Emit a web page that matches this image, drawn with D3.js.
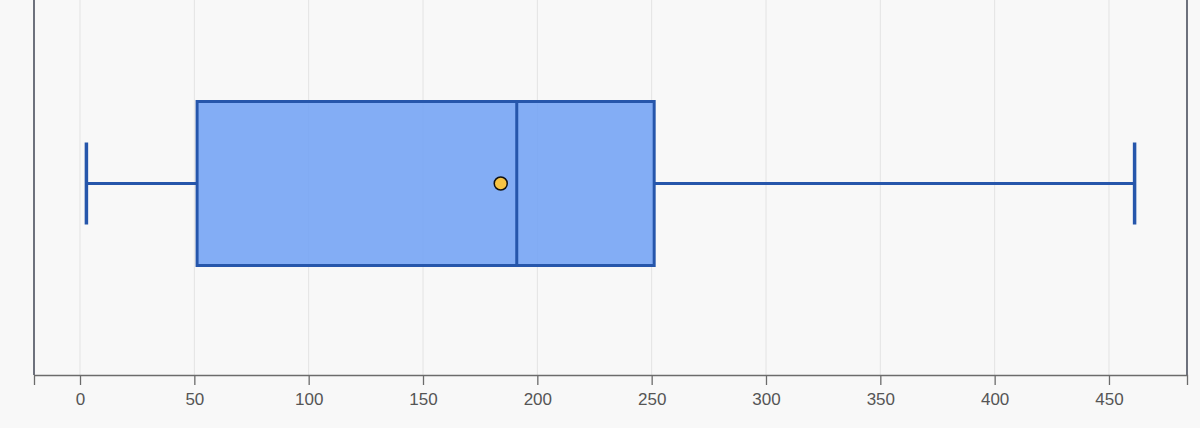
<!DOCTYPE html>
<html>
<head>
<meta charset="utf-8">
<script src="https://cdn.jsdelivr.net/npm/d3@7"></script>
<style>
  html, body { margin: 0; padding: 0; background: #f8f8f8; }
  svg { display: block; font-family: "Helvetica Neue", Helvetica, Arial, "Liberation Sans", sans-serif; }
</style>
</head>
<body>
<div id="vis"></div>
<script>
const width = 1200;
const height = 428;

// box plot summary (one series)
const categories = ['Series 1'];
const mins = [2.8];
const q1s = [51.2];
const medians = [191.0];
const q3s = [251.1];
const maxs = [461.2];
const means = [184.0];

const margin = {top: 0, right: 13, bottom: 53, left: 34};

const svg = d3.select('#vis')
    .append('svg')
    .attr('width', width)
    .attr('height', height);

const lo = d3.min(mins), hi = d3.max(maxs);
const pad = (hi - lo) * 0.05;

const x = d3.scaleLinear()
    .domain([lo - pad, hi + pad])
    .range([margin.left, width - margin.right]);

const y = d3.scaleBand()
    .domain(categories)
    .range([20, 347])
    .padding(0);

const ticks = x.ticks(10);

// grid
svg.append('g')
    .selectAll('line')
    .data(ticks)
    .join('line')
    .attr('x1', d => x(d))
    .attr('x2', d => x(d))
    .attr('y1', 0)
    .attr('y2', height - margin.bottom)
    .style('stroke', '#e3e3e3')
    .style('stroke-width', 1);

// side lines
svg.append('g')
    .selectAll('line')
    .data(x.range())
    .join('line')
    .attr('x1', d => d)
    .attr('x2', d => d)
    .attr('y1', 0)
    .attr('y2', height - margin.bottom)
    .style('stroke', '#23283a')
    .style('stroke-width', 1.3);

// bottom axis
const axis = svg.append('g')
    .attr('transform', `translate(0,${height - margin.bottom})`)
    .call(d3.axisBottom(x).tickValues(ticks).tickSizeOuter(10).tickSize(10).tickPadding(6));

axis.select('.domain').style('stroke', '#6b6b6b').style('stroke-width', 1.3);
axis.selectAll('.tick line').style('stroke', '#6b6b6b').style('stroke-width', 1.3);
axis.selectAll('.tick text')
    .style('font-size', '17px')
    .style('fill', '#555')
    .attr('dy', '0.85em');

// boxes
const boxColor = '#2656ab';
const capHalf = 41;

const g = svg.append('g');
categories.forEach((c, i) => {
    const cy = y(c) + y.bandwidth() / 2;
    const bh = 164;

    // whiskers
    g.append('line')
        .attr('x1', x(mins[i])).attr('x2', x(q1s[i]))
        .attr('y1', cy).attr('y2', cy)
        .style('stroke', boxColor).style('stroke-width', 3);
    g.append('line')
        .attr('x1', x(q3s[i])).attr('x2', x(maxs[i]))
        .attr('y1', cy).attr('y2', cy)
        .style('stroke', boxColor).style('stroke-width', 3);
    [mins[i], maxs[i]].forEach(v => {
        g.append('line')
            .attr('x1', x(v)).attr('x2', x(v))
            .attr('y1', cy - capHalf).attr('y2', cy + capHalf)
            .style('stroke', boxColor).style('stroke-width', 3.5);
    });

    // box
    g.append('rect')
        .attr('x', x(q1s[i]))
        .attr('y', cy - bh / 2)
        .attr('width', x(q3s[i]) - x(q1s[i]))
        .attr('height', bh)
        .style('fill', 'rgba(110,160,245,0.85)')
        .style('stroke', boxColor)
        .style('stroke-width', 3);

    // median
    g.append('line')
        .attr('x1', x(medians[i])).attr('x2', x(medians[i]))
        .attr('y1', cy - bh / 2).attr('y2', cy + bh / 2)
        .style('stroke', boxColor).style('stroke-width', 3);

    // mean
    g.append('circle')
        .attr('cx', x(means[i]))
        .attr('cy', cy)
        .attr('r', 6.5)
        .style('fill', '#f6c343')
        .style('stroke', '#111')
        .style('stroke-width', 1.5);
});
</script>
</body>
</html>
